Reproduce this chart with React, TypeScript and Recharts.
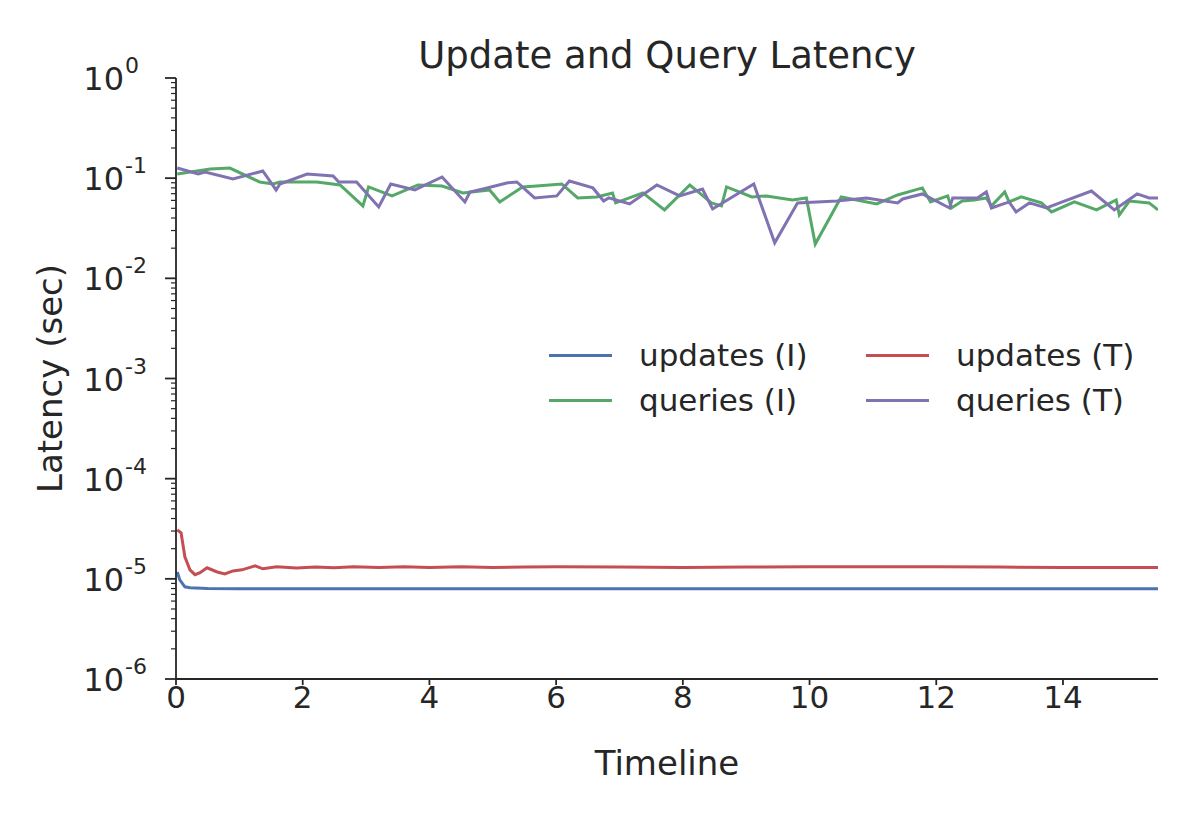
import { LineChart, Line, XAxis, YAxis, Label } from 'recharts';

const TITLE = 'Update and Query Latency';
const SERIES_NAMES = ['updates (I)', 'updates (T)', 'queries (I)', 'queries (T)'];
const COLORS = ['#4C72B0', '#C44E52', '#55A868', '#8172B2'];

const X_TICKS = [0, 2, 4, 6, 8, 10, 12, 14];
const Y_EXPONENTS = [-6, -5, -4, -3, -2, -1, 0];

const updatesIX = [0.02, 0.06, 0.14, 0.22, 0.5, 1, 2, 4, 6, 8, 10, 12, 14, 15.5];
const updatesIY = [1.17e-5, 9.77e-6, 8.32e-6, 8.13e-6, 8.0e-6, 7.94e-6, 7.94e-6, 7.94e-6, 7.94e-6, 7.94e-6, 7.94e-6, 7.94e-6, 7.94e-6, 7.94e-6];

const updatesTX = [0.02, 0.08, 0.14, 0.22, 0.3, 0.38, 0.49, 0.65, 0.77, 0.9, 1.04, 1.25, 1.37, 1.59, 1.9, 2.2, 2.5, 2.8, 3.2, 3.6, 4.0, 4.5, 5.0, 5.5, 6.0, 7.0, 8.0, 9.0, 10.0, 11.0, 12.0, 13.0, 14.0, 15.5];
const updatesTY = [3.08e-5, 2.88e-5, 1.66e-5, 1.23e-5, 1.1e-5, 1.15e-5, 1.29e-5, 1.17e-5, 1.12e-5, 1.2e-5, 1.23e-5, 1.35e-5, 1.26e-5, 1.32e-5, 1.28e-5, 1.31e-5, 1.29e-5, 1.32e-5, 1.3e-5, 1.32e-5, 1.3e-5, 1.32e-5, 1.3e-5, 1.31e-5, 1.32e-5, 1.31e-5, 1.3e-5, 1.31e-5, 1.32e-5, 1.32e-5, 1.32e-5, 1.31e-5, 1.3e-5, 1.3e-5];

const queriesIX = [0.02, 0.54, 0.85, 1.32, 1.53, 1.64, 2.22, 2.59, 2.95, 3.04, 3.41, 3.82, 4.2, 4.53, 4.95, 5.11, 5.47, 5.69, 6.09, 6.34, 6.64, 6.89, 6.94, 7.37, 7.71, 8.11, 8.3, 8.45, 8.61, 8.69, 9.09, 9.32, 9.73, 9.95, 10.09, 10.5, 11.06, 11.39, 11.78, 11.91, 12.18, 12.24, 12.41, 12.6, 12.79, 12.87, 13.08, 13.15, 13.34, 13.66, 13.82, 14.18, 14.53, 14.84, 14.89, 15.05, 15.36, 15.5];
const queriesIY = [0.11, 0.1235, 0.126, 0.0917, 0.0875, 0.0917, 0.0917, 0.0855, 0.0528, 0.0817, 0.0665, 0.0855, 0.0836, 0.0712, 0.0763, 0.0579, 0.0817, 0.0836, 0.0875, 0.0635, 0.065, 0.0712, 0.0566, 0.0712, 0.0482, 0.0855, 0.068, 0.0566, 0.0528, 0.0817, 0.065, 0.0665, 0.0606, 0.0635, 0.022, 0.065, 0.0553, 0.068, 0.0799, 0.0579, 0.0665, 0.0504, 0.0592, 0.0606, 0.0635, 0.0528, 0.0728, 0.0579, 0.065, 0.0566, 0.046, 0.0579, 0.0482, 0.0606, 0.0429, 0.0592, 0.0566, 0.0482];

const queriesTX = [0.02, 0.35, 0.46, 0.9, 1.37, 1.58, 1.64, 2.07, 2.48, 2.57, 2.85, 3.2, 3.39, 3.77, 4.2, 4.56, 4.64, 4.91, 5.22, 5.38, 5.66, 6.01, 6.21, 6.58, 6.75, 6.83, 7.16, 7.59, 7.95, 8.31, 8.47, 9.12, 9.45, 9.81, 10.43, 10.9, 11.39, 11.47, 11.78, 12.21, 12.26, 12.65, 12.79, 12.87, 13.15, 13.26, 13.47, 13.74, 13.99, 14.45, 14.81, 15.17, 15.36, 15.5];
const queriesTY = [0.1264, 0.11, 0.1153, 0.0982, 0.118, 0.0763, 0.0875, 0.11, 0.1052, 0.0917, 0.0917, 0.0516, 0.0875, 0.0763, 0.1028, 0.0579, 0.0728, 0.0799, 0.0896, 0.0917, 0.0635, 0.0665, 0.0938, 0.0799, 0.0592, 0.0635, 0.0553, 0.0855, 0.0665, 0.078, 0.0493, 0.0875, 0.0226, 0.0566, 0.0592, 0.0635, 0.0566, 0.062, 0.0696, 0.0504, 0.0635, 0.0635, 0.0728, 0.0504, 0.0579, 0.046, 0.0566, 0.0504, 0.0579, 0.0745, 0.0482, 0.0696, 0.0635, 0.0635];

const toPoints = (xs: number[], ys: number[]) => xs.map((x, i) => ({ x, y: ys[i] }));

const SERIES = [
  toPoints(updatesIX, updatesIY),
  toPoints(updatesTX, updatesTY),
  toPoints(queriesIX, queriesIY),
  toPoints(queriesTX, queriesTY),
];

// log ticks: labelled decades plus unlabelled minor ticks 2..9 in each decade
const MAJOR = Y_EXPONENTS.map((e) => Math.pow(10, e));
const MINOR: number[] = [];
Y_EXPONENTS.slice(0, -1).forEach((e) => {
  for (let k = 2; k <= 9; k++) MINOR.push(k * Math.pow(10, e));
});
const Y_TICKS = [...MAJOR, ...MINOR];

const TEXT = '#262626';
const FONT = 'DejaVu Sans';

const YTick = ({ x, y, payload }: any) => {
  const v = payload.value;
  const exp = Math.round(Math.log10(v));
  const isMajor = Math.abs(v / Math.pow(10, exp) - 1) < 1e-9;
  if (!isMajor) {
    return <line x1={x - 5} x2={x} y1={y} y2={y} stroke={TEXT} strokeWidth={1.2} />;
  }
  return (
    <g>
      <line x1={x - 11} x2={x} y1={y} y2={y} stroke={TEXT} strokeWidth={1.8} />
      <text x={x - 52} y={y + 12} textAnchor="end" fill={TEXT} fontSize={32} fontFamily={FONT}>
        10
      </text>
      <text x={x - 51} y={y - 5} textAnchor="start" fill={TEXT} fontSize={22} fontFamily={FONT}>
        {exp}
      </text>
    </g>
  );
};

const LegendBox = () => (
  <div
    style={{
      position: 'absolute',
      left: 549,
      top: 338,
      display: 'grid',
      gridTemplateColumns: '317px 300px',
      rowGap: 11,
      fontFamily: FONT,
      fontSize: 31,
      color: TEXT,
      whiteSpace: 'nowrap',
    }}
  >
    {[0, 1, 2, 3].map((i) => (
      <div key={i} style={{ display: 'flex', alignItems: 'center', height: 34 }}>
        <span
          style={{ display: 'inline-block', flexShrink: 0, width: 63, height: 3, background: COLORS[i], marginRight: 27 }}
        />
        <span>{SERIES_NAMES[i]}</span>
      </div>
    ))}
  </div>
);

export default function App() {
  return (
    <div style={{ position: 'absolute', left: 0, top: 0, width: 1200, height: 825, background: '#fff' }}>
      <div
        style={{
          position: 'absolute',
          left: 176,
          width: 982,
          top: 34,
          textAlign: 'center',
          fontFamily: FONT,
          fontSize: 37,
          color: TEXT,
        }}
      >
        {TITLE}
      </div>
      <LineChart width={1200} height={825} margin={{ top: 78, right: 42, bottom: 116, left: 96 }}>
        <XAxis
          type="number"
          dataKey="x"
          domain={[0, 15.5]}
          ticks={X_TICKS}
          allowDataOverflow
          height={30}
          stroke={TEXT}
          strokeWidth={1.8}
          tickSize={6}
          tickMargin={1}
          tick={{ fill: TEXT, fontSize: 31, fontFamily: FONT }}
        >
          <Label value="Timeline" position="insideBottom" offset={-66} fill={TEXT} fontSize={34} fontFamily={FONT} />
        </XAxis>
        <YAxis
          type="number"
          dataKey="y"
          scale="log"
          domain={[1e-6, 1]}
          ticks={Y_TICKS}
          allowDataOverflow
          interval={0}
          width={80}
          stroke={TEXT}
          strokeWidth={1.8}
          tickLine={false}
          tickSize={0}
          tickMargin={0}
          tick={<YTick />}
        >
          <Label
            value="Latency (sec)"
            angle={-90}
            position="center"
            dx={-86}
            fill={TEXT}
            fontSize={34}
            fontFamily={FONT}
          />
        </YAxis>
        {SERIES.map((d, i) => (
          <Line
            key={SERIES_NAMES[i]}
            data={d}
            dataKey="y"
            name={SERIES_NAMES[i]}
            stroke={COLORS[i]}
            strokeWidth={3}
            dot={false}
            isAnimationActive={false}
            type="linear"
          />
        ))}
      </LineChart>
      <LegendBox />
    </div>
  );
}
